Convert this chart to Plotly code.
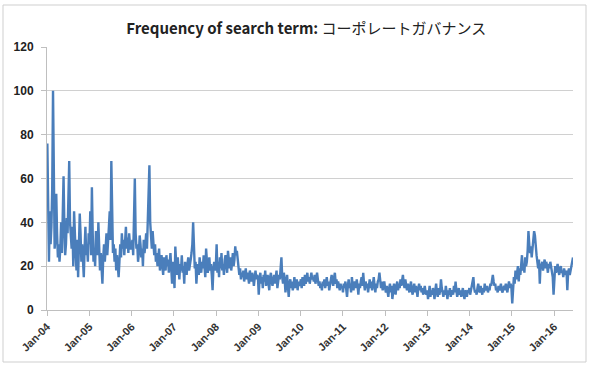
import pandas as pd
import plotly.graph_objects as go

# Weekly search frequency, one list per year
y2004 = [76, 34, 22, 45, 30, 38, 55, 100, 42, 28, 33, 53, 35, 24, 30, 22, 28, 40, 26, 45,
         61, 38, 25, 30, 42, 35, 50, 68, 40, 32, 28, 38, 20, 45, 30, 25, 18, 32, 15, 28,
         44, 35, 22, 30, 18, 15, 28, 38, 25, 30, 22, 35]
y2005 = [30, 45, 25, 56, 35, 22, 28, 20, 36, 30, 25, 40, 22, 18, 26, 20, 12, 24, 30, 22,
         28, 35, 25, 30, 38, 45, 32, 68, 40, 26, 30, 22, 28, 18, 25, 20, 15, 22, 30, 24,
         35, 28, 32, 25, 30, 38, 28, 33, 26, 35, 30, 28]
y2006 = [28, 32, 25, 40, 60, 35, 28, 30, 22, 26, 34, 30, 24, 28, 20, 32, 26, 30, 35, 28,
         45, 55, 66, 40, 30, 28, 36, 32, 25, 30, 22, 26, 20, 24, 28, 18, 22, 25, 20, 16,
         24, 22, 18, 25, 20, 23, 17, 21, 26, 19, 12, 22]
y2007 = [18, 10, 29, 22, 16, 24, 19, 14, 21, 18, 25, 17, 20, 12, 22, 19, 16, 21, 24, 18,
         20, 23, 26, 30, 40, 25, 19, 22, 12, 18, 21, 16, 24, 20, 17, 22, 19, 25, 18, 15,
         28, 22, 17, 20, 24, 18, 21, 16, 9, 19, 22, 18]
y2008 = [20, 30, 17, 22, 15, 24, 19, 26, 18, 21, 16, 23, 25, 20, 17, 27, 22, 19, 24, 18,
         21, 26, 20, 23, 29, 25, 27, 22, 18, 16, 19, 14, 17, 15, 18, 13, 16, 19, 14, 17,
         15, 12, 18, 16, 13, 17, 15, 11, 16, 18, 14, 16]
y2009 = [15, 7, 14, 17, 12, 15, 10, 16, 13, 18, 11, 14, 16, 12, 9, 15, 17, 13, 11, 14,
         16, 12, 15, 18, 10, 13, 16, 14, 20, 24, 15, 12, 17, 14, 8, 13, 16, 11, 6, 12,
         14, 10, 13, 9, 11, 15, 10, 12, 14, 9, 13, 11]
y2010 = [12, 14, 10, 15, 13, 11, 16, 12, 14, 17, 13, 15, 12, 16, 17, 14, 15, 13, 16, 12,
         15, 17, 14, 11, 13, 10, 12, 9, 13, 11, 14, 10, 12, 15, 11, 13, 9, 12, 14, 16,
         13, 11, 15, 17, 12, 14, 10, 13, 11, 9, 12, 10]
y2011 = [11, 8, 12, 10, 13, 9, 6, 11, 14, 10, 12, 8, 15, 11, 9, 13, 12, 10, 14, 11,
         7, 12, 10, 13, 15, 11, 17, 12, 9, 13, 10, 12, 8, 11, 14, 10, 13, 9, 12, 15,
         11, 8, 12, 10, 13, 14, 17, 12, 10, 13, 9, 11]
y2012 = [13, 10, 8, 11, 9, 6, 10, 12, 8, 11, 5, 9, 12, 10, 7, 11, 13, 9, 12, 10,
         14, 11, 13, 16, 12, 10, 14, 11, 9, 12, 10, 8, 11, 13, 9, 7, 10, 12, 8, 11,
         9, 6, 10, 12, 9, 11, 8, 10, 7, 9, 11, 8]
y2013 = [7, 9, 5, 8, 11, 6, 9, 7, 10, 8, 5, 9, 12, 8, 6, 10, 7, 9, 14, 10,
         8, 6, 9, 7, 11, 8, 5, 9, 7, 10, 6, 8, 9, 7, 11, 8, 13, 9, 6, 8,
         10, 7, 9, 6, 8, 10, 7, 5, 9, 8, 6, 9]
y2014 = [8, 10, 7, 9, 11, 13, 15, 10, 8, 9, 7, 10, 12, 9, 8, 11, 9, 7, 10, 8,
         12, 9, 10, 11, 8, 10, 9, 12, 11, 14, 16, 13, 11, 12, 9, 10, 8, 11, 9, 10,
         12, 9, 8, 10, 11, 9, 12, 10, 8, 11, 13, 10]
y2015 = [12, 10, 3, 9, 15, 12, 18, 14, 17, 20, 13, 19, 16, 22, 25, 18, 21, 17, 24, 20,
         22, 27, 36, 30, 26, 29, 24, 28, 31, 36, 34, 28, 25, 22, 19, 23, 12, 21, 20, 22,
         18, 21, 23, 19, 22, 20, 17, 21, 19, 22, 20, 18]
y2016 = [15, 7, 18, 20, 17, 19, 21, 18, 16, 19, 20, 17, 18, 15, 19, 17, 16, 18, 9, 17,
         19, 16, 18, 20, 22, 24]

years = list(range(2004, 2017))
tick_labels = ["Jan-%02d" % (y % 100) for y in years]
y_ticks = [0, 20, 40, 60, 80, 100, 120]

values = (y2004 + y2005 + y2006 + y2007 + y2008 + y2009 + y2010 + y2011 + y2012
          + y2013 + y2014 + y2015 + y2016)
dates = pd.date_range("2004-01-04", periods=len(values), freq="7D")

fig = go.Figure()
fig.add_trace(go.Scatter(x=dates, y=values, mode="lines",
                         line=dict(color="#4A7EBB", width=2.4), showlegend=False))

L, R, T, B = 47, 16, 47, 55
W, H = 589, 365
pw, ph = W - L - R, H - T - B

fig.update_layout(
    width=W, height=H,
    margin=dict(l=L, r=R, t=T, b=B, autoexpand=False),
    paper_bgcolor="white", plot_bgcolor="white",
    title=dict(text="<b>Frequency of search term:</b> コーポレートガバナンス",
               x=0.52, xanchor="center", y=1 - 29 / H, yanchor="middle",
               font=dict(family="Noto Sans CJK JP", size=15, color="#222222")),
    font=dict(family="Liberation Sans", color="#333333"),
    xaxis=dict(type="date", range=[pd.Timestamp("2004-01-01"), dates[-1]],
               tickvals=[pd.Timestamp("%d-01-01" % y) for y in years],
               ticktext=tick_labels, tickangle=-45, automargin=False,
               tickfont=dict(size=11, color="#333333", family="Liberation Sans", weight="bold"),
               showgrid=False, showline=True, linecolor="#bfbfbf", linewidth=1,
               ticks="outside", ticklen=5, tickcolor="#bfbfbf", zeroline=False),
    yaxis=dict(range=[0, 120], tickvals=y_ticks, ticktext=[str(v) for v in y_ticks],
               automargin=False, ticklabelstandoff=5,
               tickfont=dict(size=12, color="#222222", family="Liberation Sans", weight="bold"),
               showgrid=True, gridcolor="#d0d0d0", gridwidth=1,
               showline=True, linecolor="#bfbfbf", linewidth=1,
               ticks="outside", ticklen=5, tickcolor="#bfbfbf", zeroline=False),
)

fig.add_shape(type="rect", xref="paper", yref="paper",
              x0=(3 - L) / pw, x1=(586 - L) / pw,
              y0=(H - B - 362) / ph, y1=(H - B - 5) / ph,
              line=dict(color="#cfcfcf", width=1), fillcolor="rgba(0,0,0,0)", layer="below")

fig.write_html("out.html", config={"displayModeBar": False},
               post_script="document.body.style.margin='0';document.body.style.overflow='hidden';")
